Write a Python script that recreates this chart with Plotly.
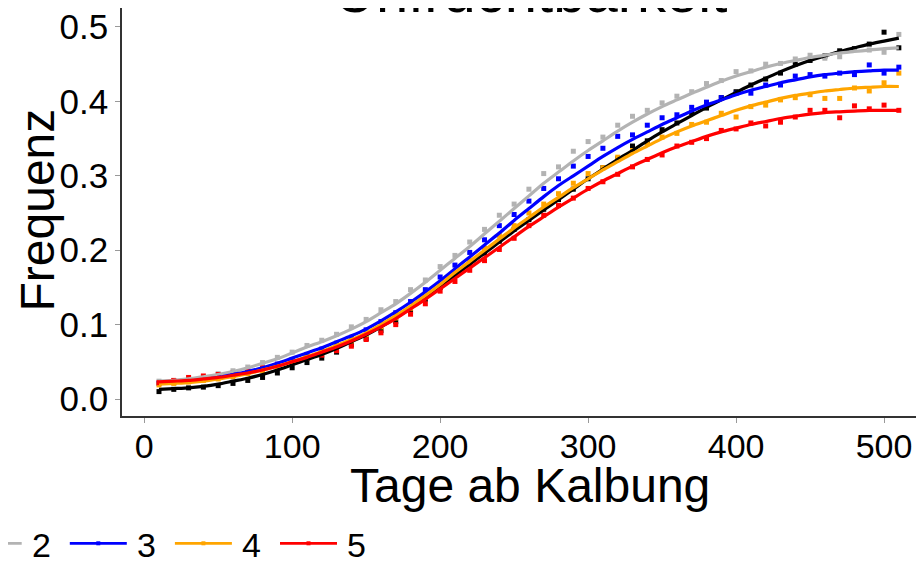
import plotly.graph_objects as go

# ---- data -------------------------------------------------------------
days = list(range(10, 520, 10))  # 10 .. 510
groups = ["1", "2", "3", "4", "5"]
colors = ["#000000", "#b3b3b3", "#0000ff", "#ffa500", "#ff0000"]

# observed frequencies (points)
pts_1 = [.010, .013, .015, .016, .018, .021, .025, .029, .035, .042, .049, .055, .063, .073, .081, .092, .104, .118, .134, .150,
         .166, .181, .196, .212, .228, .241, .255, .268, .282, .296, .311, .323, .340, .347, .362, .371, .385, .391, .405, .413,
         .422, .430, .438, .450, .455, .461, .468, .471, .477, .493, .472]
pts_2 = [.024, .025, .028, .030, .034, .038, .043, .049, .056, .063, .072, .079, .087, .097, .107, .120, .131, .147, .160, .178,
         .193, .211, .228, .247, .262, .282, .303, .312, .333, .346, .352, .368, .380, .388, .398, .407, .413, .424, .428, .440,
         .441, .450, .451, .457, .462, .458, .460, .470, .469, .466, .490]
pts_3 = [.021, .022, .024, .026, .029, .032, .036, .041, .047, .053, .060, .067, .075, .083, .093, .104, .116, .131, .147, .164,
         .180, .197, .214, .233, .248, .266, .283, .296, .313, .326, .337, .353, .355, .368, .378, .382, .392, .399, .405, .411,
         .411, .422, .422, .434, .436, .434, .438, .436, .449, .438, .446]
pts_4 = [.019, .021, .023, .025, .027, .030, .034, .038, .043, .049, .055, .062, .070, .078, .086, .097, .109, .122, .137, .153,
         .170, .186, .203, .220, .233, .250, .262, .276, .290, .303, .311, .325, .334, .343, .352, .357, .369, .372, .384, .379,
         .393, .395, .402, .405, .409, .404, .404, .418, .414, .425, .438]
pts_5 = [.022, .025, .029, .031, .033, .035, .039, .042, .046, .049, .055, .059, .065, .071, .080, .089, .100, .114, .128, .145,
         .158, .173, .186, .201, .216, .233, .247, .260, .270, .283, .292, .302, .312, .322, .328, .340, .345, .350, .361, .363,
         .371, .367, .372, .379, .388, .388, .378, .394, .390, .395, .388]

# fitted curves (lines)
fit_1 = [.013, .014, .015, .017, .020, .024, .028, .033, .039, .046, .053, .060, .068, .077, .086, .097, .109, .122, .136, .151,
         .166, .181, .196, .211, .226, .240, .254, .268, .282, .296, .309, .322, .334, .347, .359, .370, .381, .392, .402, .412,
         .422, .431, .440, .448, .455, .461, .467, .472, .477, .481, .485]
fit_2 = [.024, .025, .027, .030, .033, .037, .042, .048, .054, .062, .070, .077, .085, .094, .104, .116, .128, .142, .157, .173,
         .189, .205, .222, .239, .256, .273, .290, .305, .320, .334, .347, .360, .372, .383, .393, .402, .411, .419, .427, .434,
         .440, .446, .451, .455, .459, .462, .465, .467, .469, .471, .472]
fit_3 = [.022, .023, .024, .026, .029, .033, .037, .042, .048, .055, .062, .069, .077, .085, .094, .105, .117, .130, .144, .159,
         .175, .191, .207, .223, .240, .256, .272, .287, .300, .313, .326, .338, .349, .359, .369, .378, .387, .395, .402, .409,
         .415, .420, .425, .429, .433, .436, .438, .440, .441, .442, .442]
fit_4 = [.020, .021, .022, .024, .027, .030, .034, .039, .044, .050, .057, .064, .072, .080, .089, .100, .112, .125, .139, .154,
         .170, .185, .200, .215, .230, .244, .258, .271, .284, .296, .308, .319, .330, .340, .350, .359, .367, .374, .381, .388,
         .394, .399, .404, .408, .411, .414, .416, .418, .419, .420, .420]
fit_5 = [.023, .024, .025, .027, .029, .032, .035, .039, .044, .050, .056, .063, .070, .078, .087, .097, .108, .121, .134, .148,
         .162, .176, .190, .204, .218, .232, .245, .258, .270, .282, .293, .303, .313, .322, .331, .339, .346, .353, .359, .364,
         .369, .373, .377, .380, .383, .385, .386, .387, .388, .388, .388]

points = [pts_1, pts_2, pts_3, pts_4, pts_5]
fits = [fit_1, fit_2, fit_3, fit_4, fit_5]

x_ticks = [0, 100, 200, 300, 400, 500]
y_ticks = [0.0, 0.1, 0.2, 0.3, 0.4, 0.5]

title_text = "Unfruchtbarkeit"
x_title = "Tage ab Kalbung"
y_title = "Frequenz"

FONT = "Liberation Sans, Arial, Helvetica, sans-serif"

# ---- layout geometry (figure pixels) -----------------------------------
W, H = 924, 561
ML, MR, MT, MB = 114, 0, 0, 153
PW, PH = W - ML - MR, H - MT - MB
PAGE = 8  # default page margin of the html body


def px(sx):
    """screen x -> paper x"""
    return (sx - PAGE - ML) / PW


def py(sy):
    """screen y -> paper y"""
    return (PH - (sy - PAGE - MT)) / PH


fig = go.Figure()

for g, c, p in zip(groups, colors, points):
    fig.add_trace(go.Scatter(
        x=days, y=p, mode="markers", name=g, legendgroup=g, showlegend=False,
        marker=dict(symbol="square", size=5, color=c), hoverinfo="x+y+name",
    ))

for g, c, f in zip(groups, colors, fits):
    fig.add_trace(go.Scatter(
        x=days, y=f, mode="lines", name=g, legendgroup=g, showlegend=False,
        line=dict(color=c, width=3.2, shape="spline", smoothing=0.6),
    ))

# legend row at the bottom (the key of group "1" lies off the left edge, as in the reference)
key_len, key_step, key_y = 57, 105.1, 543.3
first_start = -35.3 - key_step
for i, (g, c) in enumerate(zip(groups, colors)):
    x0 = first_start + i * key_step
    x1 = x0 + key_len
    fig.add_shape(type="line", xref="paper", yref="paper",
                  x0=px(x0), x1=px(x1), y0=py(key_y), y1=py(key_y),
                  line=dict(color=c, width=2.8), layer="above")
    xm = (x0 + x1) / 2
    fig.add_shape(type="rect", xref="paper", yref="paper",
                  x0=px(xm - 2), x1=px(xm + 2), y0=py(key_y - 2), y1=py(key_y + 2),
                  line=dict(width=0), fillcolor=c, layer="above")
    if x1 + 8 > 0:
        fig.add_annotation(text=g, xref="paper", yref="paper", x=px(x1 + 8), xanchor="left",
                           y=py(545.3), yanchor="middle", showarrow=False,
                           font=dict(size=34, family=FONT, color="black"))

# title (mostly above the visible area, as in the reference) and axis titles
fig.add_annotation(text=title_text, xref="paper", x=px(530), xanchor="center",
                   yref="paper", y=py(26.3), yanchor="bottom", showarrow=False,
                   font=dict(size=58, family=FONT, color="black"))
fig.add_annotation(text=x_title, xref="paper", x=px(530), xanchor="center",
                   yref="paper", y=py(502 - 16.6), yanchor="middle", showarrow=False,
                   font=dict(size=48, family=FONT, color="black"))
fig.add_annotation(text=y_title, xref="paper", x=px(36.5), xanchor="center", textangle=-90,
                   yref="paper", y=py(210), yanchor="middle", showarrow=False,
                   font=dict(size=48, family=FONT, color="black"))

fig.update_layout(
    width=W, height=H,
    margin=dict(l=ML, r=MR, t=MT, b=MB, autoexpand=False),
    paper_bgcolor="white", plot_bgcolor="white",
    font=dict(family=FONT, color="black", size=34),
    showlegend=False,
)

fig.update_xaxes(
    range=[-15, 532.4], tickvals=x_ticks, showgrid=False, zeroline=False,
    showline=True, linecolor="#333333", linewidth=1.6,
    ticks="outside", ticklen=5, tickwidth=1.2, tickcolor="#999999",
    tickfont=dict(size=34, family=FONT, color="black"), ticklabeloverflow="allow",
    ticklabelstandoff=-6,
)
fig.update_yaxes(
    range=[-0.0228, 0.5255], tickvals=y_ticks, tickformat=".1f", showgrid=False, zeroline=False,
    showline=True, linecolor="#333333", linewidth=1.6,
    ticks="outside", ticklen=5, tickwidth=1.2, tickcolor="#999999",
    tickfont=dict(size=35, family=FONT, color="black"), ticklabeloverflow="allow",
)

fig.write_html("out.html")
